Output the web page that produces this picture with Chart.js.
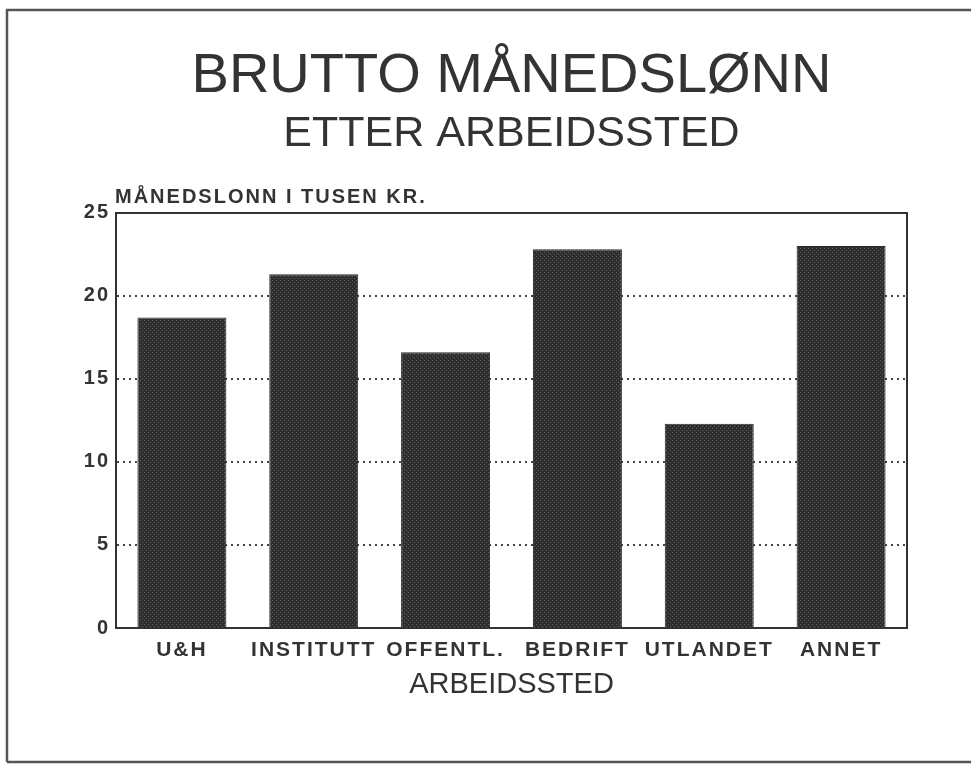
<!DOCTYPE html>
<html><head><meta charset="utf-8">
<script src="https://cdn.jsdelivr.net/npm/chart.js@4.4.1/dist/chart.umd.min.js"></script>
<style>html,body{margin:0;padding:0;background:#fff}#wrap{width:973px;height:764px;position:relative}</style>
</head><body><div id="wrap"><canvas id="c" width="973" height="764"></canvas></div>
<script>
const categories = ['U&H', 'INSTITUTT', 'OFFENTL.', 'BEDRIFT', 'UTLANDET', 'ANNET'];
const salaries = [18.7, 21.3, 16.6, 22.8, 12.3, 23.0];
const yTicks = [0, 5, 10, 15, 20, 25];
const titleText = 'BRUTTO MÅNEDSLØNN';
const subtitleText = 'ETTER ARBEIDSSTED';
const yAxisLabel = 'MÅNEDSLONN I TUSEN KR.';
const xAxisLabel = 'ARBEIDSSTED';

const FAMILY = "'Liberation Sans', Arial, Helvetica, sans-serif";
const INK = '#333333';

function makePattern() {
  const c = document.createElement('canvas');
  c.width = 4; c.height = 4;
  const g = c.getContext('2d');
  g.fillStyle = '#2e2e2e'; g.fillRect(0, 0, 4, 4);
  g.fillStyle = '#5e5e5e'; g.fillRect(0, 0, 1, 1); g.fillRect(2, 2, 1, 1);
  return g.createPattern(c, 'repeat');
}

const decor = {
  id: 'decor',
  beforeDraw(chart) { chart.ctx.letterSpacing = '0px'; },
  afterDatasetsDraw(chart) { chart.ctx.letterSpacing = '2px'; },
  afterDraw(chart) {
    const ctx = chart.ctx;
    ctx.save();
    ctx.letterSpacing = '2px';
    ctx.font = 'bold 20px ' + FAMILY;
    ctx.fillStyle = INK;
    ctx.textAlign = 'left';
    ctx.textBaseline = 'alphabetic';
    ctx.fillText(yAxisLabel, 115, 203);
    ctx.letterSpacing = '0px';
    ctx.strokeStyle = '#555';
    ctx.lineWidth = 2.5;
    ctx.beginPath();
    ctx.moveTo(7, 762); ctx.lineTo(7, 10); ctx.lineTo(971, 10);
    ctx.moveTo(7, 762); ctx.lineTo(971, 762);
    ctx.stroke();
    ctx.restore();
    ctx.letterSpacing = '0px';
  }
};

new Chart(document.getElementById('c'), {
  type: 'bar',
  data: {
    labels: categories,
    datasets: [{
      data: salaries,
      backgroundColor: makePattern(),
      borderColor: '#2a2a2a',
      borderWidth: 1,
      categoryPercentage: 1,
      barPercentage: 0.675
    }]
  },
  options: {
    responsive: false,
    animation: false,
    devicePixelRatio: 1,
    layout: { padding: { left: 0, right: 66, top: 0, bottom: 0 } },
    plugins: {
      legend: { display: false },
      tooltip: { enabled: false },
      title: {
        display: true, text: titleText, color: INK, fullSize: false,
        font: { family: FAMILY, size: 56, weight: 'normal', lineHeight: 1.2 },
        padding: { top: 43, bottom: 0 }
      },
      subtitle: {
        display: true, text: subtitleText, color: INK, fullSize: false,
        font: { family: FAMILY, size: 43, weight: 'normal', lineHeight: 1.0 },
        padding: { top: 2, bottom: 57.6 }
      }
    },
    scales: {
      x: {
        type: 'category',
        position: 'bottom',
        grid: { display: false, drawTicks: false },
        border: { display: true, color: INK, width: 2 },
        ticks: {
          z: 1, color: INK, padding: 10, maxRotation: 0, autoSkip: false,
          font: { family: FAMILY, size: 21, weight: 'bold' }
        },
        title: {
          display: true, text: xAxisLabel, color: INK,
          font: { family: FAMILY, size: 29, weight: 'normal', lineHeight: 1.2 },
          padding: { top: 0, bottom: 62 }
        },
        afterFit: s => { s.height = 136; }
      },
      x2: {
        type: 'category',
        position: 'top',
        display: true,
        grid: { display: false, drawTicks: false },
        border: { display: true, color: INK, width: 2 },
        ticks: { display: false },
        afterFit: s => { s.height = 0; }
      },
      y: {
        type: 'linear',
        position: 'left',
        min: 0, max: 25,
        afterBuildTicks: s => { s.ticks = yTicks.map(v => ({ value: v })); },
        grid: {
          drawTicks: false,
          lineWidth: 2,
          color: c => (c.tick && (c.tick.value === 0 || c.tick.value === 25)) ? 'rgba(0,0,0,0)' : '#444'
        },
        border: { display: true, color: INK, width: 2, dash: [2, 4] },
        ticks: {
          z: 1, color: INK, padding: 6,
          font: { family: FAMILY, size: 20, weight: 'bold' }
        },
        afterFit: s => { s.width = 116; }
      },
      y2: {
        type: 'linear',
        position: 'right',
        display: true,
        min: 0, max: 25,
        grid: { display: false, drawTicks: false },
        border: { display: true, color: INK, width: 2 },
        ticks: { display: false },
        afterFit: s => { s.width = 0; }
      }
    }
  },
  plugins: [decor]
});
</script>
</body></html>
